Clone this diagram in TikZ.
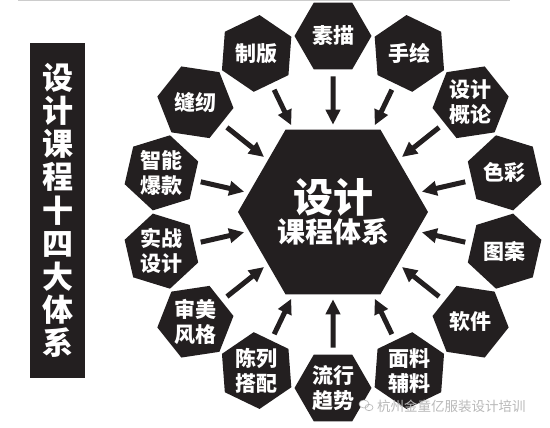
\documentclass[tikz,border=0pt]{standalone}
\usepackage{fontspec}
\setmainfont{Noto Sans CJK SC}
\usetikzlibrary{shapes.geometric,arrows.meta,calc}
\definecolor{ink}{RGB}{35,31,32}
\begin{document}
\begin{tikzpicture}[x=1pt,y=1pt,
  hexs/.style={regular polygon, regular polygon sides=6, fill=ink, text=white,
    inner sep=0pt, outer sep=0pt, minimum size=77pt,
    font=\bfseries\fontsize{21}{25}\selectfont, align=center},
  arr/.style={draw=ink, line width=5pt, -{Triangle[length=15pt,width=14pt]},
    shorten <=7pt, shorten >=5pt}]
\useasboundingbox (0,0) rectangle (550,428);
\fill[white] (0,0) rectangle (550,428);
\draw[gray!40, line width=1pt] (18,427.5) -- (510,427.5);
% title bar
\node[fill=ink, minimum width=55pt, minimum height=335pt, inner sep=0pt, text=white,
  font=\bfseries\fontsize{31}{33.2}\selectfont, align=center]
  (title) at (57.5,217.5) {设\\计\\课\\程\\十\\四\\大\\体\\系};
% core
\node[regular polygon, regular polygon sides=6, minimum size=190pt, fill=ink,
  text=white, inner sep=0pt, outer sep=0pt, align=center, font=\bfseries]
  (core) at (333,216)
  {{\fontsize{40}{44}\selectfont 设计}\\[1pt]{\fontsize{28}{32}\selectfont 课程体系}};
% satellites
\foreach \a/\n/\t [evaluate=\a as \r using \a-90] in {
  90/sumiao/{素描}, 115.714/zhiban/{制版}, 141.429/fengren/{缝纫},
  167.143/zhineng/{智能\\爆款}, 192.857/shizhan/{实战\\设计},
  218.571/shenmei/{审美\\风格}, 244.286/chenlie/{陈列\\搭配},
  270/liuxing/{流行\\趋势}, 295.714/mianliao/{面料\\辅料},
  321.429/ruanjian/{软件}, 347.143/tuan/{图案}, 12.857/secai/{色彩},
  38.571/gailun/{设计\\概论}, 64.286/shouhui/{手绘}}{
  \node[hexs, shape border rotate=\r] (\n) at ($(core.center)+(\a:176pt)$) {\t};
  \draw[arr] (\n) -- (core);
}
% watermark
\node[text=gray!55, font=\fontsize{13.5}{15}\selectfont, anchor=west, inner sep=0pt]
  (wm) at (377,22) {杭州金童亿服装设计培训};
\path[draw=gray!60, fill=white, line width=0.6pt]
  (364,24) ellipse [x radius=5pt, y radius=4pt]
  (369,20.5) ellipse [x radius=4pt, y radius=3.2pt];
\end{tikzpicture}
\end{document}
